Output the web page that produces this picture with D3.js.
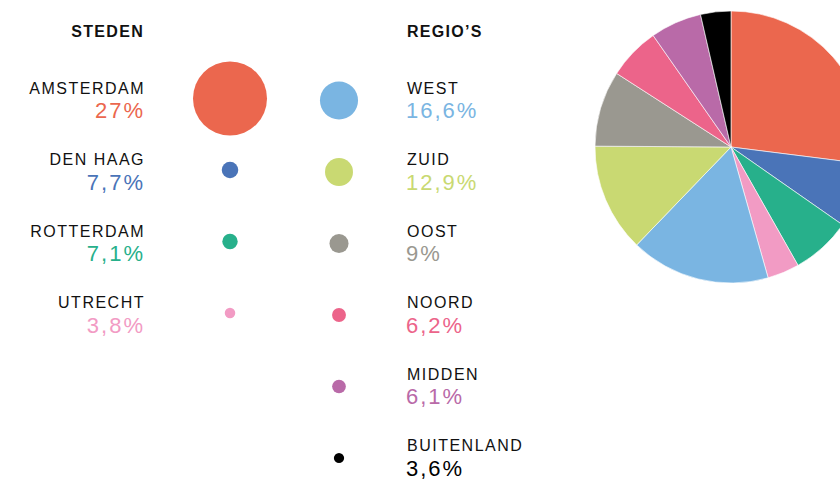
<!DOCTYPE html>
<html lang="nl">
<head>
    <meta charset="UTF-8">
    <title>Steden en regio's</title>
    <script src="https://d3js.org/d3.v7.min.js"></script>
    <style>
        body { margin: 0; background: #fff; }
        svg { font-family: "Liberation Sans", Arial, Helvetica, sans-serif; display: block; }
        .name { font-size: 16px; fill: #111; letter-spacing: 1.5px; }
        .pct { font-size: 22px; letter-spacing: 2px; }
        .head { font-size: 16px; font-weight: bold; fill: #111; letter-spacing: 1.3px; }
    </style>
</head>
<body>
    <svg></svg>
    <script>
        // steden (cities)
        const cities = ['AMSTERDAM', 'DEN HAAG', 'ROTTERDAM', 'UTRECHT'];
        const cityValues = [27, 7.7, 7.1, 3.8];
        const cityColors = ['#eb674e', '#4a74b8', '#27b08b', '#f29bc4'];

        // regio's (regions)
        const regions = ['WEST', 'ZUID', 'OOST', 'NOORD', 'MIDDEN', 'BUITENLAND'];
        const regionValues = [16.6, 12.9, 9, 6.2, 6.1, 3.6];
        const regionColors = ['#7ab5e2', '#c9d972', '#9a9890', '#ec648a', '#b96aa8', '#000000'];

        const width = 840, height = 479;

        const svg = d3.select('svg')
            .attr('width', width)
            .attr('height', height);

        const nl = d3.formatLocale({ decimal: ',', thousands: '.', grouping: [3], currency: ['€', ''] });
        const fmt = v => nl.format('~g')(v) + '%';

        // row positions (name baseline)
        const rowY = d3.scaleLinear().domain([0, 1]).range([93.5, 165]);

        // circle size from value
        const r = d3.scalePow().exponent(1.6)
            .domain([0, d3.max(cityValues.concat(regionValues))])
            .range([3.8, 37]);

        const cityData = cities.map((n, i) => ({ name: n, value: cityValues[i], color: cityColors[i] }));
        const regionData = regions.map((n, i) => ({ name: n, value: regionValues[i], color: regionColors[i] }));

        // headers
        svg.append('text').attr('class', 'head')
            .attr('x', 144).attr('y', 37).attr('text-anchor', 'end')
            .text('STEDEN');
        svg.append('text').attr('class', 'head')
            .attr('x', 407).attr('y', 37)
            .text('REGIO\u2019S');

        // cities column
        const cg = svg.append('g').selectAll('g')
            .data(cityData)
            .enter().append('g');

        cg.append('text').attr('class', 'name')
            .attr('x', 145).attr('y', (d, i) => rowY(i))
            .attr('text-anchor', 'end')
            .text(d => d.name);
        cg.append('text').attr('class', 'pct')
            .attr('x', 145).attr('y', (d, i) => rowY(i) + 24.5)
            .attr('text-anchor', 'end')
            .style('fill', d => d.color)
            .text(d => fmt(d.value));
        cg.append('circle')
            .attr('cx', 230).attr('cy', (d, i) => rowY(i) + 5)
            .attr('r', d => r(d.value))
            .style('fill', d => d.color);

        // regions column
        const rg = svg.append('g').selectAll('g')
            .data(regionData)
            .enter().append('g');

        rg.append('circle')
            .attr('cx', 339).attr('cy', (d, i) => rowY(i) + 7)
            .attr('r', d => r(d.value))
            .style('fill', d => d.color);
        rg.append('text').attr('class', 'name')
            .attr('x', 407).attr('y', (d, i) => rowY(i))
            .text(d => d.name);
        rg.append('text').attr('class', 'pct')
            .attr('x', 406).attr('y', (d, i) => rowY(i) + 24.5)
            .style('fill', d => d.color)
            .text(d => fmt(d.value));

        // pie
        const pieData = cityData.concat(regionData);
        const pie = d3.pie().sort(null).value(d => d.value);
        const arc = d3.arc().innerRadius(0).outerRadius(136);

        svg.append('g')
            .attr('transform', 'translate(731,147)')
            .selectAll('path')
            .data(pie(pieData))
            .enter().append('path')
            .attr('d', arc)
            .style('fill', d => d.data.color)
            .style('stroke', '#fff')
            .style('stroke-width', 0.6);
    </script>
</body>
</html>
